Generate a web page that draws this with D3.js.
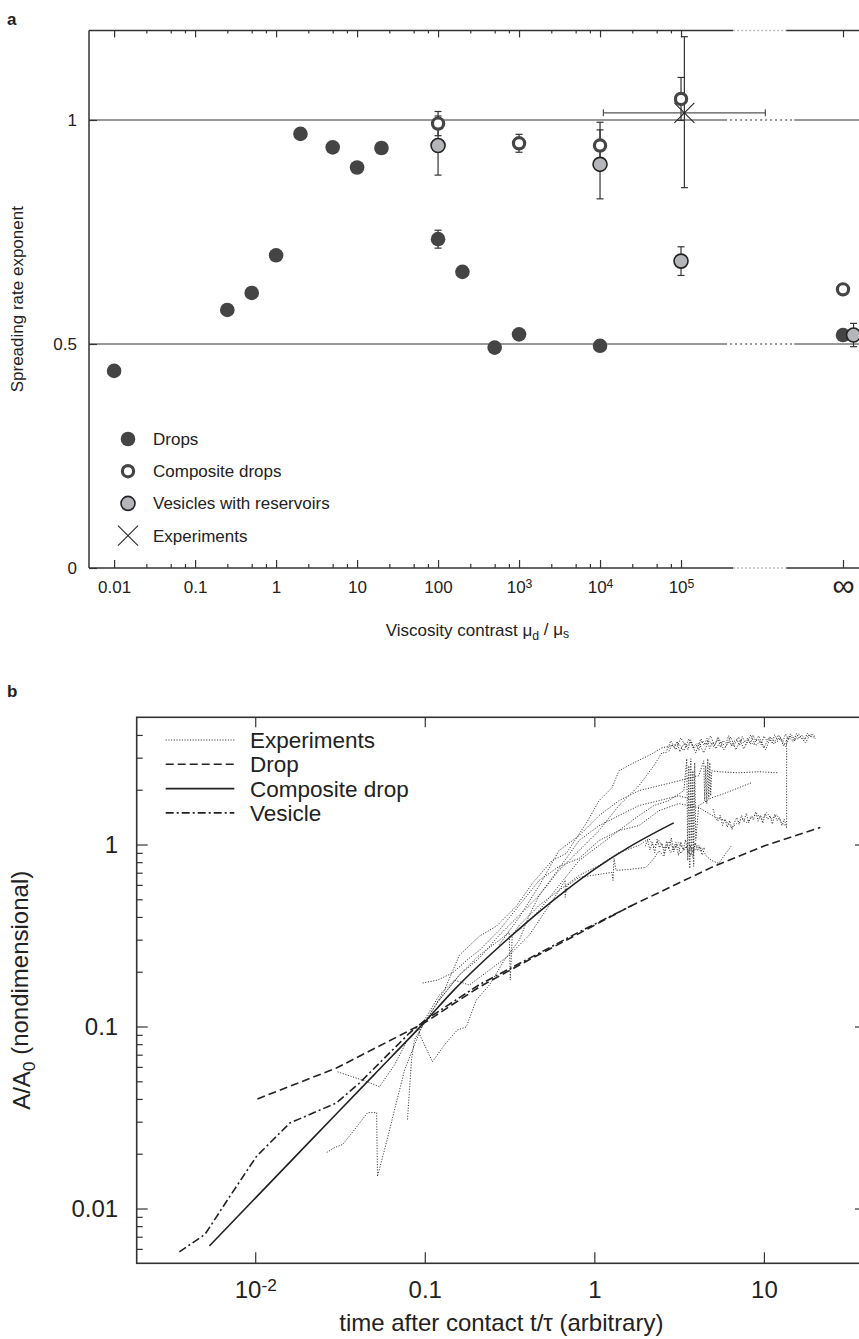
<!DOCTYPE html>
<html>
<head>
<meta charset="utf-8">
<script src="https://cdn.jsdelivr.net/npm/d3@7"></script>
<style>
  body { margin: 0; background: #fff; }
  svg { display: block; }
  text { font-family: "Liberation Sans", Arial, sans-serif; fill: #222; }
</style>
</head>
<body>
<svg id="chart" width="859" height="1339"></svg>
<script>
// ---------- panel a data ----------
const INF = 1e7;   // where "∞" sits on the log axis
const dropX = [0.01, 0.25, 0.5, 1, 2, 5, 10, 20, 100, 200, 500, 1000, 1e4, INF];
const dropY = [0.44, 0.576, 0.614, 0.698, 0.969, 0.939, 0.894, 0.9375, 0.734, 0.661, 0.492, 0.5215, 0.496, 0.52];
const dropErr = [0, 0, 0, 0, 0, 0, 0, 0, 0.02, 0, 0, 0, 0, 0];
const compX = [100, 1000, 1e4, 1e5, INF];
const compY = [0.992, 0.948, 0.943, 1.047, 0.622];
const compErr = [0.027, 0.02, 0.052, 0.048, 0];
const vesX = [100, 1e4, 1e5, INF * 1.35];
const vesY = [0.943, 0.901, 0.685, 0.52];
const vesErr = [0.066, 0.077, 0.032, 0.026];
const expX = [1.1e5], expY = [1.016];
const expXlo = [1.1e4], expXhi = [1.1e6], expYlo = [0.849], expYhi = [1.186];

const aMajor = [0.01, 0.1, 1, 10, 100, 1e3, 1e4, 1e5];
const aMajorLabels = ["0.01", "0.1", "1", "10", "100", "10^3", "10^4", "10^5"];
const aYTicks = [0, 0.5, 1];
const aYLabels = ["0", "0.5", "1"];
const aLegend = ["Drops", "Composite drops", "Vesicles with reservoirs", "Experiments"];

// ---------- panel b data ----------
const dropT = [0.0103, 0.0301, 0.1, 0.21, 0.41, 0.81, 1.6, 4.94, 10, 21.5];
const dropA = [0.040, 0.0591, 0.105, 0.165, 0.232, 0.324, 0.454, 0.751, 0.98, 1.24];
const compT = [0.00537, 0.02, 0.05, 0.1, 0.146, 0.33, 0.68, 1, 1.6, 2.94];
const compA = [0.00623, 0.0223, 0.0541, 0.106, 0.156, 0.32, 0.56, 0.73, 0.967, 1.315];
const vesT = [0.00357, 0.00506, 0.0071, 0.0102, 0.016, 0.0301, 0.0412, 0.062, 0.081, 0.1, 0.21, 0.41, 0.81, 1.67];
const vesA = [0.00578, 0.00722, 0.0117, 0.0194, 0.0295, 0.038, 0.0489, 0.0716, 0.0918, 0.108, 0.17, 0.236, 0.33, 0.463];

const exp1 = [[-1.102,-1.511],[-1.090,-1.347],[-1.078,-1.183],[-1.061,-1.073],[-0.972,-0.936],[-0.884,-0.800],[-0.796,-0.608],[-0.678,-0.504],[-0.578,-0.449],[-0.461,-0.340],[-0.366,-0.214],[-0.249,-0.088],[-0.166,-0.049],[-0.049,0.115],[0.028,0.241],[0.104,0.312],[0.145,0.405],[0.222,0.444],[0.340,0.498],[0.398,0.531],[0.498,0.553],[0.528,0.515],[0.557,0.581],[0.586,0.526],[0.616,0.559],[0.645,0.504],[0.675,0.570],[0.704,0.537],[0.733,0.586],[0.763,0.520],[0.792,0.564],[0.822,0.542],[0.851,0.591],[0.881,0.526],[0.910,0.575],[0.939,0.548],[0.969,0.597],[0.999,0.531],[1.028,0.581],[1.057,0.553],[1.087,0.602],[1.116,0.542],[1.145,0.591],[1.175,0.564],[1.204,0.608],[1.234,0.570],[1.263,0.602],[1.292,0.586]];
const exp2 = [[-0.914,-0.854],[-0.796,-0.717],[-0.678,-0.624],[-0.561,-0.498],[-0.443,-0.389],[-0.325,-0.279],[-0.208,-0.142],[-0.090,-0.033],[0.028,0.077],[0.145,0.214],[0.263,0.323],[0.351,0.433],[0.398,0.504],[0.422,0.504],[0.451,0.570],[0.481,0.520],[0.510,0.586],[0.540,0.537],[0.569,0.564],[0.598,0.504],[0.628,0.581],[0.657,0.548],[0.686,0.597],[0.716,0.526],[0.745,0.564],[0.775,0.537],[0.804,0.591],[0.834,0.520],[0.863,0.575],[0.892,0.548],[0.922,0.602],[0.951,0.542],[0.981,0.570],[1.010,0.520],[1.039,0.591],[1.069,0.559],[1.098,0.581],[1.128,0.537],[1.157,0.608],[1.187,0.575],[1.216,0.591],[1.245,0.559],[1.275,0.608],[1.304,0.581]];
const exp3 = [[-1.013,-0.761],[-0.925,-0.745],[-0.837,-0.706],[-0.737,-0.624],[-0.678,-0.581],[-0.561,-0.471],[-0.443,-0.334],[-0.325,-0.197],[-0.208,-0.120],[-0.090,-0.077],[0.028,0.022],[0.145,0.077],[0.263,0.104],[0.381,0.186],[0.498,0.225],[0.616,0.203],[0.716,0.148],[0.775,0.131],[0.810,0.093],[0.839,0.115],[0.869,0.142],[0.898,0.120],[0.928,0.148],[0.957,0.170],[0.987,0.137],[1.016,0.175],[1.046,0.142],[1.075,0.164],[1.104,0.120],[1.134,0.099],[1.134,0.586]];
const exp4 = [[-1.031,-1.019],[-0.914,-0.854],[-0.796,-0.717],[-0.678,-0.608],[-0.561,-0.526],[-0.502,-0.482],[-0.496,-0.745],[-0.484,-0.498],[-0.443,-0.444],[-0.325,-0.334],[-0.208,-0.252],[-0.090,-0.170],[0.028,-0.115],[0.145,-0.044],[0.263,-0.005],[0.322,0.033],[0.351,-0.011],[0.381,0.022],[0.410,-0.022],[0.439,0.016],[0.469,-0.027],[0.498,0.011],[0.528,-0.033],[0.557,0.005],[0.586,-0.038],[0.616,-0.005],[0.633,-0.022],[0.663,-0.066],[0.692,-0.088],[0.733,-0.104],[0.775,-0.049],[0.810,-0.005]];
const exp5 = [[-1.578,-1.692],[-1.531,-1.665],[-1.484,-1.648],[-1.414,-1.566],[-1.337,-1.473],[-1.284,-1.473],[-1.279,-1.824],[-1.237,-1.676],[-1.178,-1.457],[-1.119,-1.238],[-1.072,-1.128],[-1.002,-0.964],[-0.914,-0.827],[-0.825,-0.745],[-0.737,-0.772],[-0.619,-0.690],[-0.502,-0.608],[-0.384,-0.498],[-0.266,-0.334],[-0.208,-0.252],[-0.172,-0.197],[-0.172,-0.290],[-0.161,-0.225],[-0.090,-0.181],[0.028,-0.164],[0.104,-0.153],[0.110,-0.197],[0.116,-0.077],[0.128,-0.142],[0.204,-0.137],[0.304,-0.126],[0.351,-0.077],[0.381,-0.033],[0.410,-0.066],[0.428,-0.005],[0.451,-0.044],[0.481,0.011],[0.510,-0.049],[0.540,-0.011],[0.569,-0.060],[0.598,0.005],[0.628,-0.038],[0.651,-0.011]];
const exp6 = [[-0.561,-0.550],[-0.443,-0.400],[-0.325,-0.225],[-0.208,-0.033],[-0.090,0.049],[0.028,0.159],[0.145,0.241],[0.263,0.296],[0.381,0.323],[0.498,0.350],[0.616,0.378],[0.645,0.460],[0.651,0.241],[0.657,0.433],[0.663,0.225],[0.669,0.471],[0.675,0.252],[0.681,0.449],[0.686,0.268],[0.692,0.405],[0.733,0.400],[0.851,0.394],[0.969,0.400],[1.087,0.394]];
const exp7 = [[-0.443,-0.471],[-0.325,-0.361],[-0.208,-0.225],[-0.090,-0.088],[0.028,-0.005],[0.145,0.077],[0.263,0.159],[0.351,0.214],[0.439,0.241],[0.528,0.296],[0.545,0.471],[0.551,-0.088],[0.557,0.433],[0.563,-0.131],[0.569,0.471],[0.575,-0.033],[0.581,0.405],[0.586,-0.120],[0.592,0.449],[0.598,0.022],[0.616,0.214],[0.692,0.257],[0.763,0.279],[0.851,0.312],[0.928,0.340]];
const exp8 = [[-1.514,-1.249],[-1.443,-1.271],[-1.355,-1.298],[-1.267,-1.331],[-1.178,-1.210],[-1.102,-1.073],[-1.043,-1.019],[-0.955,-1.194],[-0.884,-1.101],[-0.808,-1.019],[-0.755,-1.002],[-0.696,-0.854],[-0.619,-0.772],[-0.531,-0.635],[-0.443,-0.526],[-0.384,-0.389],[-0.325,-0.279],[-0.208,-0.131],[-0.090,0.022],[0.028,0.104],[0.145,0.159],[0.263,0.214],[0.381,0.241],[0.498,0.268],[0.557,0.252]];
// noisy plateaus (top ~4, middle ~1.35, lower ~1)
const exp9 = [[0.440,0.512],[0.456,0.548],[0.472,0.531],[0.488,0.567],[0.504,0.509],[0.520,0.542],[0.536,0.558],[0.552,0.521],[0.568,0.575],[0.584,0.538],[0.600,0.553],[0.616,0.517],[0.632,0.569],[0.648,0.545],[0.664,0.583],[0.680,0.527],[0.696,0.561],[0.712,0.549],[0.728,0.590],[0.744,0.533],[0.760,0.571],[0.776,0.556],[0.792,0.598],[0.808,0.541],[0.824,0.566],[0.840,0.579],[0.856,0.544],[0.872,0.593],[0.888,0.562],[0.904,0.585],[0.920,0.551],[0.936,0.601],[0.952,0.569],[0.968,0.577],[0.984,0.548],[1.000,0.596],[1.016,0.572],[1.032,0.588],[1.048,0.559],[1.064,0.603],[1.080,0.575],[1.096,0.592],[1.112,0.566],[1.128,0.607],[1.144,0.580],[1.160,0.597],[1.176,0.571],[1.192,0.610],[1.208,0.586],[1.224,0.602],[1.240,0.578],[1.256,0.612],[1.272,0.590],[1.288,0.605],[1.300,0.594]];
const exp10 = [[0.300,-0.010],[0.314,0.025],[0.328,-0.030],[0.342,0.012],[0.356,-0.045],[0.370,0.030],[0.384,-0.018],[0.398,0.008],[0.412,-0.052],[0.426,0.019],[0.440,-0.025],[0.454,0.036],[0.468,-0.040],[0.482,0.002],[0.496,-0.061],[0.510,0.015],[0.524,-0.028],[0.538,0.027],[0.552,-0.049],[0.566,-0.006],[0.580,-0.070],[0.594,0.010],[0.608,-0.035],[0.622,-0.012],[0.636,-0.058],[0.650,-0.020]];
const exp11 = [[0.700,0.195],[0.714,0.150],[0.728,0.128],[0.742,0.162],[0.756,0.105],[0.770,0.140],[0.784,0.095],[0.798,0.131],[0.812,0.082],[0.826,0.120],[0.840,0.148],[0.854,0.110],[0.868,0.160],[0.882,0.127],[0.896,0.172],[0.910,0.118],[0.924,0.155],[0.938,0.135],[0.952,0.180],[0.966,0.128],[0.980,0.162],[0.994,0.117],[1.008,0.170],[1.022,0.138],[1.036,0.158],[1.050,0.112],[1.064,0.166],[1.078,0.131],[1.092,0.148],[1.106,0.104],[1.120,0.139],[1.134,0.092]];
const expTraces = [exp1, exp2, exp3, exp4, exp5, exp6, exp7, exp8, exp9, exp10, exp11];

const bXTicks = [0.01, 0.1, 1, 10];
const bXLabels = ["10^-2", "0.1", "1", "10"];
const bYTicks = [0.01, 0.1, 1];
const bYLabels = ["0.01", "0.1", "1"];
const bLegend = ["Experiments", "Drop", "Composite drop", "Vesicle"];

const ink = "#222";
const svg = d3.select("#chart");

// turns "10^3" into 10 with a raised 3
function supLabels(sel) {
  sel.each(function () {
    const t = d3.select(this), s = t.text();
    if (!s.includes("^")) return;
    const [base, sup] = s.split("^");
    t.text(base);
    t.append("tspan").attr("dy", "-0.45em").attr("font-size", "72%").text(sup);
  });
}
function styleAxis(g, size) {
  g.select(".domain").remove();
  g.attr("font-family", null).attr("font-size", size).style("color", ink);
  g.selectAll(".tick line").attr("stroke", "#333").attr("stroke-width", 1.2);
}

// ================= panel a =================
const xa = d3.scaleLog().domain([Math.pow(10, -2.31), Math.pow(10, 7.284)]).range([89, 866]);
const ya = d3.scaleLinear().domain([0, 1.2]).range([568, 30.4]);
const AX_BREAK = [4.4e5, 2.0e6];
const REF_BREAK = [3.5e5, 2.5e6];
const ga = svg.append("g");

const aMinor = [];
aMajor.slice(0, -1).forEach(d => [2.5, 5, 7.5].forEach(k => aMinor.push(d * k)));

// reference lines at 1 and 0.5
aYTicks.slice(1).forEach(v => {
  const [x0, x1] = xa.domain();
  ga.append("line").attr("x1", xa(x0)).attr("x2", xa(REF_BREAK[0]))
    .attr("y1", ya(v)).attr("y2", ya(v)).attr("stroke", "#333").attr("stroke-width", 1);
  ga.append("line").attr("x1", xa(REF_BREAK[0])).attr("x2", xa(REF_BREAK[1]))
    .attr("y1", ya(v)).attr("y2", ya(v)).attr("stroke", "#333").attr("stroke-width", 1)
    .attr("stroke-dasharray", "2,3");
  ga.append("line").attr("x1", xa(REF_BREAK[1])).attr("x2", xa(x1))
    .attr("y1", ya(v)).attr("y2", ya(v)).attr("stroke", "#333").attr("stroke-width", 1);
});

// frame, with a faint gap where the axis is broken
[ya(0), ya(1.2)].forEach(y => {
  const [x0, x1] = xa.domain();
  ga.append("line").attr("x1", xa(x0)).attr("x2", xa(AX_BREAK[0])).attr("y1", y).attr("y2", y)
    .attr("stroke", "#333").attr("stroke-width", 1.5);
  ga.append("line").attr("x1", xa(AX_BREAK[0])).attr("x2", xa(AX_BREAK[1])).attr("y1", y).attr("y2", y)
    .attr("stroke", "#bbb").attr("stroke-width", 1.5).attr("stroke-dasharray", "2,2");
  ga.append("line").attr("x1", xa(AX_BREAK[1])).attr("x2", xa(x1)).attr("y1", y).attr("y2", y)
    .attr("stroke", "#333").attr("stroke-width", 1.5);
});
ga.append("line").attr("x1", xa.range()[0]).attr("x2", xa.range()[0])
  .attr("y1", ya(0)).attr("y2", ya(1.2)).attr("stroke", "#333").attr("stroke-width", 1.5);
ga.append("line").attr("x1", xa.range()[1]).attr("x2", xa.range()[1])
  .attr("y1", ya(0)).attr("y2", ya(1.2)).attr("stroke", "#333").attr("stroke-width", 1.5);

// ticks
ga.append("g").attr("transform", `translate(0,${ya(0)})`)
  .call(d3.axisBottom(xa).tickValues(aMajor).tickSize(-8).tickPadding(13)
    .tickFormat((d, i) => aMajorLabels[i]))
  .call(g => styleAxis(g, 17)).call(g => g.selectAll("text").call(supLabels));
ga.append("g").attr("transform", `translate(0,${ya(0)})`)
  .call(d3.axisBottom(xa).tickValues([INF]).tickSize(-8).tickPadding(6).tickFormat(() => "∞"))
  .call(g => styleAxis(g, 31)).call(g => g.selectAll("text").attr("font-family", "DejaVu Sans"));
ga.append("g").attr("transform", `translate(0,${ya(0)})`)
  .call(d3.axisBottom(xa).tickValues(aMinor).tickSize(-4).tickFormat(""))
  .call(g => styleAxis(g, 17));
ga.append("g").attr("transform", `translate(0,${ya(1.2)})`)
  .call(d3.axisTop(xa).tickValues(aMajor.concat([INF])).tickSize(-7).tickFormat(""))
  .call(g => styleAxis(g, 17));
ga.append("g").attr("transform", `translate(0,${ya(1.2)})`)
  .call(d3.axisTop(xa).tickValues(aMinor).tickSize(-3).tickFormat(""))
  .call(g => styleAxis(g, 17));
ga.append("g").attr("transform", `translate(${xa.range()[0]},0)`)
  .call(d3.axisLeft(ya).tickValues(aYTicks).tickSize(-8).tickPadding(12)
    .tickFormat((d, i) => aYLabels[i]))
  .call(g => styleAxis(g, 17));

// error bars
function vErr(g, x, y, e, color) {
  if (!e) return;
  const px = xa(x);
  g.append("line").attr("x1", px).attr("x2", px).attr("y1", ya(y - e)).attr("y2", ya(y + e))
    .attr("stroke", color).attr("stroke-width", 1.2);
  [y - e, y + e].forEach(v => g.append("line").attr("x1", px - 3.5).attr("x2", px + 3.5)
    .attr("y1", ya(v)).attr("y2", ya(v)).attr("stroke", color).attr("stroke-width", 1.2));
}
const gErr = ga.append("g");
dropX.forEach((x, i) => vErr(gErr, x, dropY[i], dropErr[i], "#333"));
compX.forEach((x, i) => vErr(gErr, x, compY[i], compErr[i], "#333"));
vesX.forEach((x, i) => vErr(gErr, x, vesY[i], vesErr[i], "#333"));

// experiment cross with both error bars
expX.forEach((x, i) => {
  const px = xa(x), py = ya(expY[i]);
  gErr.append("line").attr("x1", xa(expXlo[i])).attr("x2", xa(expXhi[i])).attr("y1", py).attr("y2", py)
    .attr("stroke", "#555").attr("stroke-width", 1.2);
  [expXlo[i], expXhi[i]].forEach(v => gErr.append("line").attr("x1", xa(v)).attr("x2", xa(v))
    .attr("y1", py - 3.5).attr("y2", py + 3.5).attr("stroke", "#555").attr("stroke-width", 1.2));
  gErr.append("line").attr("x1", px).attr("x2", px).attr("y1", ya(expYlo[i])).attr("y2", ya(expYhi[i]))
    .attr("stroke", "#333").attr("stroke-width", 1.2);
  [expYlo[i], expYhi[i]].forEach(v => gErr.append("line").attr("x1", px - 3.5).attr("x2", px + 3.5)
    .attr("y1", ya(v)).attr("y2", ya(v)).attr("stroke", "#333").attr("stroke-width", 1.2));
});

// markers
const markDrop = s => s.attr("r", 7.3).attr("fill", "#444");
const markComp = s => s.attr("r", 5.6).attr("fill", "#fff").attr("stroke", "#454545").attr("stroke-width", 3.2);
const markVes = s => s.attr("r", 7).attr("fill", "#b4b6b9").attr("stroke", "#222").attr("stroke-width", 1.6);
function markCross(g, cx, cy) {
  g.append("line").attr("x1", cx - 10).attr("x2", cx + 10).attr("y1", cy - 10).attr("y2", cy + 10)
    .attr("stroke", ink).attr("stroke-width", 1.1);
  g.append("line").attr("x1", cx - 10).attr("x2", cx + 10).attr("y1", cy + 10).attr("y2", cy - 10)
    .attr("stroke", ink).attr("stroke-width", 1.1);
}

ga.append("g").selectAll("circle").data(dropX).join("circle")
  .attr("cx", d => xa(d)).attr("cy", (d, i) => ya(dropY[i])).call(markDrop);
ga.append("g").selectAll("circle").data(vesX).join("circle")
  .attr("cx", d => xa(d)).attr("cy", (d, i) => ya(vesY[i])).call(markVes);
ga.append("g").selectAll("circle").data(compX).join("circle")
  .attr("cx", d => xa(d)).attr("cy", (d, i) => ya(compY[i])).call(markComp);
expX.forEach((x, i) => markCross(ga, xa(x), ya(expY[i])));

// legend a
const legA = ga.append("g");
aLegend.forEach((name, i) => {
  const y = 439 + i * 32.2;
  if (i === 0) legA.append("circle").attr("cx", 128).attr("cy", y).call(markDrop);
  if (i === 1) legA.append("circle").attr("cx", 128).attr("cy", y).call(markComp);
  if (i === 2) legA.append("circle").attr("cx", 128).attr("cy", y).call(markVes);
  if (i === 3) markCross(legA, 128, y);
  legA.append("text").attr("x", 153).attr("y", y).attr("dy", "0.35em").attr("font-size", 17).text(name);
});

// labels a
ga.append("text").attr("x", 7).attr("y", 25).attr("font-size", 17).attr("font-weight", "bold").text("a");
ga.append("text").attr("transform", `translate(23,${(ya(0) + ya(1.2)) / 2}) rotate(-90)`)
  .attr("text-anchor", "middle").attr("font-size", 17).text("Spreading rate exponent");
const xla = ga.append("text").attr("x", (xa.range()[0] + xa.range()[1]) / 2).attr("y", 636)
  .attr("text-anchor", "middle").attr("font-size", 17);
xla.append("tspan").text("Viscosity contrast μ");
xla.append("tspan").attr("dy", "0.3em").attr("font-size", "72%").text("d");
xla.append("tspan").attr("dy", "-0.3em").text(" / μ");
xla.append("tspan").attr("dy", "0.3em").attr("font-size", "72%").text("s");

// ================= panel b =================
const xb = d3.scaleLog().domain([0.002, 40]).range([136.7, 866]);
const yb = d3.scaleLog().domain([0.005, 5]).range([1263.3, 717.3]);
const gb = svg.append("g");

const bMinor = [];
[0.001, 0.01, 0.1, 1].forEach(d => d3.range(2, 10).forEach(k => {
  const v = d * k;
  if (v > 0.005 * 1.001 && v < 5 * 0.999) bMinor.push(v);
}));

gb.append("rect").attr("x", xb.range()[0]).attr("y", yb.range()[1])
  .attr("width", xb.range()[1] - xb.range()[0]).attr("height", yb.range()[0] - yb.range()[1])
  .attr("fill", "none").attr("stroke", "#333").attr("stroke-width", 1.6);

gb.append("g").attr("transform", `translate(0,${yb.range()[0]})`)
  .call(d3.axisBottom(xb).tickValues(bXTicks).tickSize(-11).tickPadding(18)
    .tickFormat((d, i) => bXLabels[i]))
  .call(g => styleAxis(g, 24)).call(g => g.selectAll("text").call(supLabels));
gb.append("g").attr("transform", `translate(0,${yb.range()[1]})`)
  .call(d3.axisTop(xb).tickValues(bXTicks).tickSize(-10).tickFormat(""))
  .call(g => styleAxis(g, 24));
gb.append("g").attr("transform", `translate(${xb.range()[0]},0)`)
  .call(d3.axisLeft(yb).tickValues(bYTicks).tickSize(-11).tickPadding(18.5)
    .tickFormat((d, i) => bYLabels[i]))
  .call(g => styleAxis(g, 24));
gb.append("g").attr("transform", `translate(${xb.range()[0]},0)`)
  .call(d3.axisLeft(yb).tickValues(bMinor).tickSize(-6).tickFormat(""))
  .call(g => styleAxis(g, 24));
gb.append("g").attr("transform", `translate(${xb.range()[1]},0)`)
  .call(d3.axisRight(yb).tickValues(bYTicks).tickSize(-11).tickFormat(""))
  .call(g => styleAxis(g, 24));
gb.append("g").attr("transform", `translate(${xb.range()[1]},0)`)
  .call(d3.axisRight(yb).tickValues(bMinor).tickSize(-6).tickFormat(""))
  .call(g => styleAxis(g, 24));

const lineB = d3.line().x(d => xb(d[0])).y(d => yb(d[1]));
const styles = [
  { stroke: "#333", width: 1, dash: "1.1,1.6" },  // experiments
  { stroke: "#222", width: 1.6, dash: "8,4" },    // drop
  { stroke: "#222", width: 1.6, dash: null },     // composite drop
  { stroke: "#222", width: 1.6, dash: "8,3,2,3" } // vesicle
];
function styled(p, s) {
  return p.attr("fill", "none").attr("stroke", s.stroke).attr("stroke-width", s.width)
    .attr("stroke-dasharray", s.dash);
}

expTraces.forEach(tr => {
  const pts = tr.map(([lt, la]) => [Math.pow(10, lt), Math.pow(10, la)]);
  styled(gb.append("path").attr("d", lineB(pts)), styles[0]);
});
styled(gb.append("path").attr("d", lineB(dropT.map((t, i) => [t, dropA[i]]))), styles[1]);
styled(gb.append("path").attr("d", lineB.curve(d3.curveMonotoneX)(compT.map((t, i) => [t, compA[i]]))), styles[2]);
lineB.curve(d3.curveLinear);
styled(gb.append("path").attr("d", lineB(vesT.map((t, i) => [t, vesA[i]]))), styles[3]);

// legend b
bLegend.forEach((name, i) => {
  const y = 740 + i * 24.3;
  styled(gb.append("line").attr("x1", 165.7).attr("x2", 234.3).attr("y1", y).attr("y2", y), styles[i]);
  gb.append("text").attr("x", 250).attr("y", y).attr("dy", "0.36em").attr("font-size", 22.5).text(name);
});

// labels b
gb.append("text").attr("x", 7).attr("y", 697).attr("font-size", 17).attr("font-weight", "bold").text("b");
gb.append("text").attr("x", (xb.range()[0] + xb.range()[1]) / 2).attr("y", 1331)
  .attr("text-anchor", "middle").attr("font-size", 24).text("time after contact t/τ (arbitrary)");
const ylb = gb.append("text").attr("transform", `translate(30,${(yb.range()[0] + yb.range()[1]) / 2}) rotate(-90)`)
  .attr("text-anchor", "middle").attr("font-size", 24);
ylb.append("tspan").text("A/A");
ylb.append("tspan").attr("dy", "0.3em").attr("font-size", "72%").text("0");
ylb.append("tspan").attr("dy", "-0.3em").text(" (nondimensional)");
</script>
</body>
</html>
